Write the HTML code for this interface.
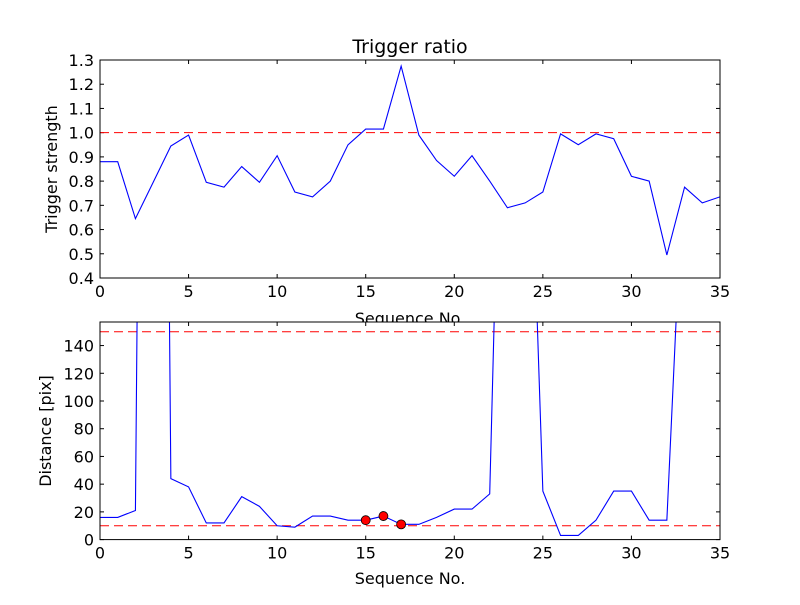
<!DOCTYPE html>
<html><head><meta charset="utf-8"><style>
body{margin:0;background:#fff;}
svg text{font-family:"DejaVu Sans","Liberation Sans",sans-serif;}
</style></head><body>
<svg id="c" width="800" height="600" xmlns="http://www.w3.org/2000/svg">
<rect width="800" height="600" fill="#fff"/>
<defs>
<clipPath id="clipTop"><rect x="100" y="60" width="620" height="218"/></clipPath>
<clipPath id="clipBot"><rect x="100" y="322" width="620" height="218"/></clipPath>
</defs>
<g id="top"></g>
<g id="bot"></g>
</svg>
<script>
const seq = [0,1,2,3,4,5,6,7,8,9,10,11,12,13,14,15,16,17,18,19,20,21,22,23,24,25,26,27,28,29,30,31,32,33,34,35];
const strength = [0.88,0.88,0.645,0.795,0.945,0.99,0.795,0.775,0.86,0.795,0.905,0.755,0.735,0.8,0.95,1.015,1.015,1.275,0.99,0.885,0.82,0.905,0.8,0.69,0.71,0.755,0.995,0.95,0.995,0.975,0.82,0.8,0.495,0.775,0.71,0.735];
const distance = [16,16,21,1500,44,38,12,12,31,24,10,9,17,17,14,14,17,11,11,16,22,22,33,530,420,35,3,3,14,35,35,14,14,290,400,400];
const markSeq = [15,16,17];
const markDist = [14,17,11];
const topThreshold = 1.0;
const botThresholds = [150,10];
const xTicks = [0,5,10,15,20,25,30,35];
const topYTicks = [0.4,0.5,0.6,0.7,0.8,0.9,1.0,1.1,1.2,1.3];
const botYTicks = [0,20,40,60,80,100,120,140];

const NS="http://www.w3.org/2000/svg";
function el(tag,attrs,parent,text){const e=document.createElementNS(NS,tag);for(const k in attrs)e.setAttribute(k,attrs[k]);if(text!==undefined)e.textContent=text;parent.appendChild(e);return e;}
const L=100,R=720;
const xs=v=>L+(v-0)/(35-0)*(R-L);
function axes(g,top,bot,ymin,ymax,yTicks,fmt,clip,prefix){
  const ys=v=>bot-(v-ymin)/(ymax-ymin)*(bot-top);
  el('rect',{x:L,y:top,width:R-L,height:bot-top,fill:'#fff'},g);
  xTicks.forEach(t=>{const x=xs(t);
    const a=el('line',{x1:x,x2:x,y1:bot,y2:bot-4,stroke:'#000'},g);
    
    el('line',{x1:x,x2:x,y1:top,y2:top+4,stroke:'#000'},g);
    const tx=el('text',{x:x,y:bot+19,'font-size':16,'text-anchor':'middle'},g,String(t));
    });
  yTicks.forEach(t=>{const y=ys(t);
    el('line',{x1:L,x2:L+4,y1:y,y2:y,stroke:'#000'},g);
    el('line',{x1:R,x2:R-4,y1:y,y2:y,stroke:'#000'},g);
    const tx=el('text',{x:L-6,y:y+6,'font-size':16,'text-anchor':'end'},g,fmt(t));
    });
  return ys;
}
const gt=document.getElementById('top'), gb=document.getElementById('bot');
// top
const ysT=axes(gt,60,278,0.4,1.3,topYTicks,v=>v.toFixed(1),'clipTop','top');
const cT=el('g',{'clip-path':'url(#clipTop)'},gt);
const th=el('line',{x1:L,x2:R,y1:ysT(topThreshold),y2:ysT(topThreshold),stroke:'#f00','stroke-dasharray':'9,5'},cT);

const pT=el('polyline',{points:seq.map((s,i)=>xs(s)+','+ysT(strength[i])).join(' '),fill:'none',stroke:'#00f','stroke-width':1.1},cT);

el('rect',{x:L,y:60,width:R-L,height:218,fill:'none',stroke:'#000'},gt);
el('text',{x:410,y:53,'font-size':19,'text-anchor':'middle',},gt,'Trigger ratio');
el('text',{x:410,y:324,'font-size':16,'text-anchor':'middle',},gt,'Sequence No.');
el('text',{x:0,y:0,'font-size':16,'text-anchor':'middle',transform:'translate(57,169) rotate(-90)',},gt,'Trigger strength');
// bottom
const ysB=axes(gb,322,539.6,0,157,botYTicks,v=>String(v),'clipBot','bottom');
const cB=el('g',{'clip-path':'url(#clipBot)'},gb);
botThresholds.forEach(v=>{const l=el('line',{x1:L,x2:R,y1:ysB(v),y2:ysB(v),stroke:'#f00','stroke-dasharray':'9,5'},cB);
  });
const pB=el('polyline',{points:seq.map((s,i)=>xs(s)+','+ysB(distance[i])).join(' '),fill:'none',stroke:'#00f','stroke-width':1.1},cB);

markSeq.forEach((s,i)=>{const c=el('circle',{cx:xs(s),cy:ysB(markDist[i]),r:4.5,fill:'#f00',stroke:'#000','stroke-width':0.8},cB);
  });
el('rect',{x:L,y:322,width:R-L,height:217.6,fill:'none',stroke:'#000'},gb);
el('text',{x:410,y:584,'font-size':16,'text-anchor':'middle',},gb,'Sequence No.');
el('text',{x:0,y:0,'font-size':16,'text-anchor':'middle',transform:'translate(51,431) rotate(-90)',},gb,'Distance [pix]');
</script>
</body></html>
